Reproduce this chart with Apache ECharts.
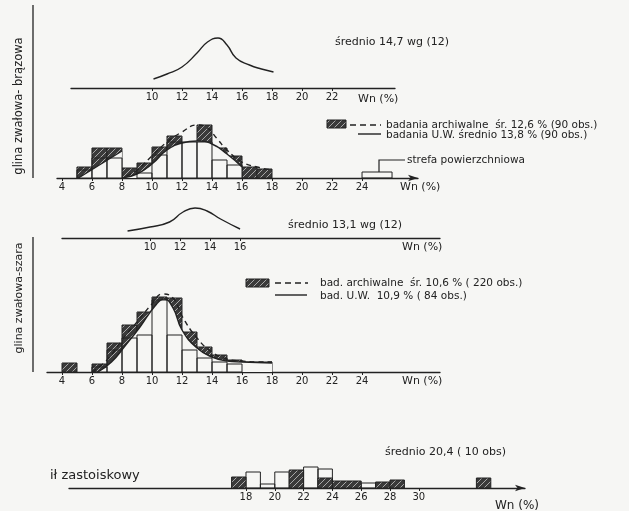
<!DOCTYPE html>
<html>
<head>
<meta charset="utf-8">
<script src="https://cdn.jsdelivr.net/npm/echarts@6/dist/echarts.min.js"></script>
<style>
  html, body { margin: 0; background: #f6f6f4; }
  #chart { width: 629px; height: 511px; }
</style>
</head>
<body>
<div id="chart"></div>
<script>
// Wn (%) - natural moisture, heights (relative units)
const brownCurve = [[10.1, 9], [11, 14], [12, 21], [13, 35], [13.7, 46], [14.4, 50], [15, 43], [15.6, 30], [16.5, 23], [17.3, 19], [18.1, 16]];
const brownTicks = [10, 12, 14, 16, 18, 20, 22];

// bins: [from, to, height]
const brownArch = [[5, 6, 11], [6, 7, 30], [7, 8, 30], [8, 9, 10], [9, 10, 15], [10, 11, 31], [11, 12, 42], [12, 13, 35], [13, 14, 53], [14, 15, 30], [15, 16, 22], [16, 17, 11], [17, 18, 9]];
const brownUW = [[5, 6, 8], [6, 7, 20], [7, 8, 20], [9, 10, 5], [10, 11, 23], [11, 12, 36], [12, 13, 36], [13, 14, 36], [14, 15, 18], [15, 16, 13], [24, 26, 6]];
const brownArchLine = [[8.3, 2], [9, 8], [10, 22], [11, 36], [12, 46], [13, 53], [13.6, 51], [14.3, 40], [15, 28], [16, 16], [17, 11], [18, 8]];
const brownUWLineA = [[5.1, 0], [8, 27]];
const brownUWLineB = [[8, 0], [9, 4], [10, 14], [11, 28], [12, 35], [13, 37], [14, 34], [15, 24], [16, 11]];
const histTicks = [4, 6, 8, 10, 12, 14, 16, 18, 20, 22, 24];

const grayCurve = [[8.5, 7], [10, 11], [11.3, 16], [12.2, 26], [13, 30], [13.8, 27], [14.7, 19], [16, 9]];
const grayTicks = [10, 12, 14, 16];

const grayArch = [[4, 5, 9], [6, 7, 8], [7, 8, 29], [8, 9, 47], [9, 10, 60], [10, 11, 75], [11, 12, 74], [12, 13, 40], [13, 14, 25], [14, 15, 17], [15, 16, 12], [16, 17, 10], [17, 18, 10]];
const grayUW = [[6, 7, 5], [7, 8, 22], [8, 9, 34], [9, 10, 37], [10, 11, 72], [11, 12, 37], [12, 13, 22], [13, 14, 14], [14, 15, 10], [15, 16, 8]];
const grayArchLine = [[6.0, 0], [7, 12], [8, 32], [9, 50], [10, 68], [10.7, 78], [11.4, 74], [12, 56], [13, 34], [14, 20], [15, 13], [16, 11], [17, 10], [18, 10]];
const grayUWLine = [[6.4, 0], [7.3, 10], [8.2, 26], [9.2, 45], [10.2, 66], [10.8, 73], [11.4, 64], [12, 42], [13, 24], [14, 15], [15, 11], [16, 10], [18, 9]];

const tillArch = [[17, 18, 11], [21, 22, 18], [23, 24, 10], [24, 26, 7], [27, 28, 6], [28, 29, 8], [34, 35, 10]];
const tillUW = [[18, 19, 16], [19, 20, 4], [20, 21, 16], [22, 23, 21], [23, 24, 19], [26, 27, 5]];
const tillTicks = [18, 20, 22, 24, 26, 28, 30];

const INK = '#222';
const PAPER = '#f6f6f4';
const FONT = 'DejaVu Sans';

// hatch pattern for the archive bars
const hatchCanvas = document.createElement('canvas');
hatchCanvas.width = 6;
hatchCanvas.height = 6;
const hc = hatchCanvas.getContext('2d');
hc.fillStyle = '#3a3a3a';
hc.fillRect(0, 0, 6, 6);
hc.strokeStyle = '#a8a8a8';
hc.lineWidth = 1;
hc.beginPath();
hc.moveTo(0, 6); hc.lineTo(6, 0);
hc.moveTo(-3, 3); hc.lineTo(3, -3);
hc.moveTo(3, 9); hc.lineTo(9, 3);
hc.stroke();
const hatch = { image: hatchCanvas, repeat: 'repeat' };

// grid layout: [left, width, axisY, height]
const grids = [
  [71, 324, 88, 60],
  [57, 361, 178, 60],
  [62, 378, 238, 35],
  [47, 393, 372, 85],
  [69, 456, 488, 25]
];

function xAxis(i, min, max, ticks, arrow) {
  return {
    type: 'value', gridIndex: i, min: min, max: max,
    axisLine: { lineStyle: { color: INK, width: 1.3 }, symbol: arrow ? ['none', 'arrow'] : 'none', symbolSize: [5, 10] },
    axisTick: { show: true, customValues: ticks, length: 3, lineStyle: { color: INK } },
    axisLabel: { customValues: ticks, color: INK, fontSize: 10, margin: 4, fontFamily: FONT },
    splitLine: { show: false }
  };
}

function bars(i, data, style, z) {
  return {
    type: 'custom', xAxisIndex: i, yAxisIndex: i, z: z,
    data: data,
    encode: { x: [0, 1], y: 2 },
    renderItem: function (params, api) {
      const p0 = api.coord([api.value(0), api.value(2)]);
      const p1 = api.coord([api.value(1), 0]);
      return {
        type: 'rect',
        shape: { x: p0[0], y: p0[1], width: p1[0] - p0[0], height: p1[1] - p0[1] },
        style: style
      };
    }
  };
}

function line(i, data, opts) {
  return Object.assign({
    type: 'line', xAxisIndex: i, yAxisIndex: i, data: data,
    smooth: 0.5, showSymbol: false, silent: true,
    lineStyle: { color: INK, width: 1.4 }
  }, opts);
}

const archStyle = { fill: hatch, stroke: INK, lineWidth: 1 };
const uwStyle = { fill: 'none', stroke: INK, lineWidth: 1 };
const whiteArea = { color: PAPER, opacity: 1 };

function txt(x, y, text, size) {
  return {
    type: 'text', x: x, y: y, silent: true,
    style: { text: text, fill: INK, font: (size || 11) + 'px ' + FONT, textVerticalAlign: 'middle' }
  };
}

function vtxt(x, y, text, size) {
  return {
    type: 'text', x: x, y: y, rotation: Math.PI / 2, silent: true,
    style: { text: text, fill: INK, font: size + 'px ' + FONT, textAlign: 'center', textVerticalAlign: 'middle' }
  };
}

const chart = echarts.init(document.getElementById('chart'));

chart.setOption({
  backgroundColor: PAPER,
  animation: false,
  grid: grids.map(g => ({ left: g[0], width: g[1], top: g[2] - g[3], height: g[3] })),
  xAxis: [
    xAxis(0, 4.6, 26.2, brownTicks, false),
    xAxis(1, 3.67, 27.73, histTicks, true),
    xAxis(2, 4.13, 29.33, grayTicks, false),
    xAxis(3, 3, 29.2, histTicks, false),
    xAxis(4, 5.71, 37.375, tillTicks, true)
  ],
  yAxis: grids.map((g, i) => ({ type: 'value', gridIndex: i, min: 0, max: g[3], show: false })),
  series: [
    line(0, brownCurve),

    bars(1, brownArch, archStyle, 1),
    line(1, brownUWLineA, { smooth: false, areaStyle: whiteArea, z: 2 }),
    line(1, brownUWLineB, { areaStyle: whiteArea, z: 2 }),
    bars(1, brownUW, uwStyle, 3),
    line(1, brownArchLine, { lineStyle: { color: INK, width: 1.4, type: [5, 4] }, z: 4 }),

    line(2, grayCurve),

    bars(3, grayArch, archStyle, 1),
    line(3, grayUWLine, { areaStyle: whiteArea, z: 2 }),
    bars(3, grayUW, uwStyle, 3),
    line(3, grayArchLine, { lineStyle: { color: INK, width: 1.4, type: [5, 4] }, z: 4 }),

    bars(4, tillUW, uwStyle, 2),
    bars(4, tillArch, archStyle, 3)
  ],
  graphic: [
    { type: 'line', silent: true, shape: { x1: 33, y1: 5, x2: 33, y2: 178 }, style: { stroke: INK, lineWidth: 1.3 } },
    { type: 'line', silent: true, shape: { x1: 33, y1: 237, x2: 33, y2: 372 }, style: { stroke: INK, lineWidth: 1.3 } },
    vtxt(19, 106, 'glina zwałowa- brązowa', 11.5),
    vtxt(19, 298, 'glina zwałowa-szara', 11),

    txt(335, 42, 'średnio 14,7 wg (12)', 11),
    txt(358, 99, 'Wn (%)', 11),

    { type: 'rect', silent: true, shape: { x: 327, y: 120, width: 19, height: 8 }, style: { fill: hatch, stroke: INK } },
    { type: 'line', silent: true, shape: { x1: 350, y1: 125, x2: 381, y2: 125 }, style: { stroke: INK, lineWidth: 1.4, lineDash: [6, 4] } },
    txt(386, 125, 'badania archiwalne  śr. 12,6 % (90 obs.)', 10.5),
    { type: 'line', silent: true, shape: { x1: 358, y1: 134, x2: 381, y2: 134 }, style: { stroke: INK, lineWidth: 1.4 } },
    txt(386, 135, 'badania U.W. średnio 13,8 % (90 obs.)', 10.5),
    { type: 'polyline', silent: true, shape: { points: [[379, 172], [379, 160], [405, 160]] }, style: { stroke: INK, lineWidth: 1.2, fill: 'none' } },
    txt(407, 160, 'strefa powierzchniowa', 10.5),
    txt(400, 187, 'Wn (%)', 11),

    txt(288, 225, 'średnio 13,1 wg (12)', 11),
    txt(402, 247, 'Wn (%)', 11),

    { type: 'rect', silent: true, shape: { x: 246, y: 279, width: 23, height: 8 }, style: { fill: hatch, stroke: INK } },
    { type: 'line', silent: true, shape: { x1: 275, y1: 283, x2: 308, y2: 283 }, style: { stroke: INK, lineWidth: 1.4, lineDash: [6, 4] } },
    txt(320, 283, 'bad. archiwalne  śr. 10,6 % ( 220 obs.)', 10.5),
    { type: 'line', silent: true, shape: { x1: 275, y1: 295, x2: 307, y2: 295 }, style: { stroke: INK, lineWidth: 1.4 } },
    txt(320, 296, 'bad. U.W.  10,9 % ( 84 obs.)', 10.5),
    txt(402, 381, 'Wn (%)', 11),

    txt(385, 452, 'średnio 20,4 ( 10 obs)', 11),
    txt(50, 476, 'ił zastoiskowy', 13),
    txt(495, 506, 'Wn (%)', 12)
  ]
});
</script>
</body>
</html>
